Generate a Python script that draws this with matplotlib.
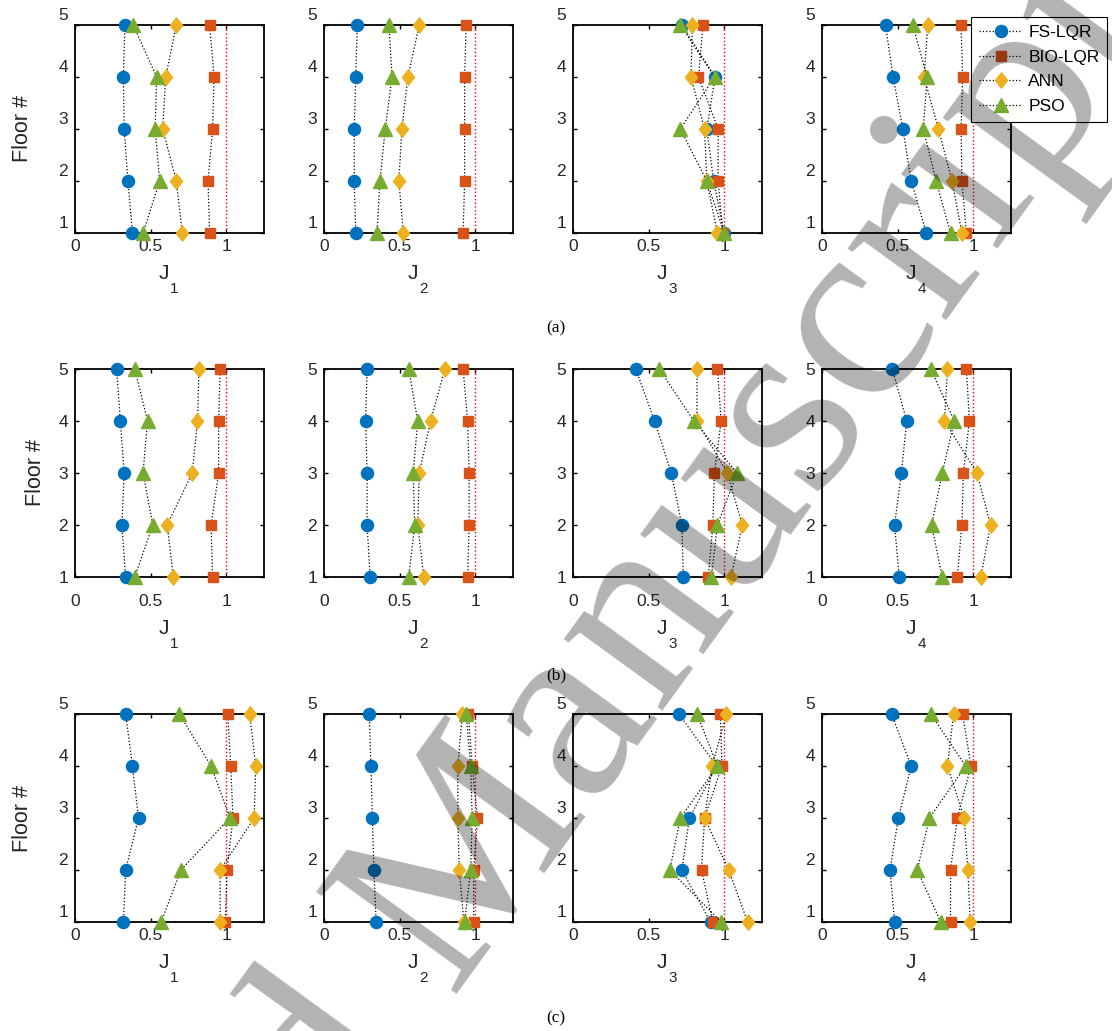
import matplotlib
matplotlib.use('Agg')
import matplotlib.pyplot as plt
from matplotlib.path import Path
from matplotlib.transforms import ScaledTranslation

plt.rcParams['font.family'] = ['Liberation Sans', 'DejaVu Sans']

floors = [1, 2, 3, 4, 5]
indices = ['1', '2', '3', '4']
methods = ['FS-LQR', 'BIO-LQR', 'ANN', 'PSO']

# each list: J1..J4, values for floors 1..5
fs_lqr_a = [[0.38, 0.35, 0.325, 0.32, 0.33],
            [0.21, 0.20, 0.20, 0.21, 0.22],
            [1.00, 0.93, 0.885, 0.94, 0.72],
            [0.69, 0.59, 0.535, 0.47, 0.42]]
bio_lqr_a = [[0.89, 0.88, 0.91, 0.92, 0.89],
             [0.92, 0.93, 0.93, 0.93, 0.94],
             [0.99, 0.96, 0.96, 0.83, 0.86],
             [0.955, 0.925, 0.92, 0.93, 0.92]]
ann_a = [[0.71, 0.67, 0.58, 0.60, 0.67],
         [0.525, 0.495, 0.515, 0.555, 0.63],
         [0.955, 0.885, 0.87, 0.78, 0.79],
         [0.925, 0.86, 0.77, 0.675, 0.70]]
pso_a = [[0.45, 0.56, 0.53, 0.54, 0.385],
         [0.35, 0.37, 0.405, 0.45, 0.43],
         [1.00, 0.885, 0.71, 0.936, 0.71],
         [0.85, 0.755, 0.67, 0.695, 0.60]]

fs_lqr_b = [[0.335, 0.31, 0.325, 0.30, 0.275],
            [0.305, 0.285, 0.285, 0.275, 0.285],
            [0.73, 0.72, 0.65, 0.54, 0.415],
            [0.51, 0.48, 0.525, 0.56, 0.465]]
bio_lqr_b = [[0.91, 0.90, 0.95, 0.95, 0.96],
             [0.95, 0.96, 0.96, 0.95, 0.92],
             [0.895, 0.925, 0.935, 0.98, 0.955],
             [0.895, 0.925, 0.935, 0.975, 0.955]]
ann_b = [[0.65, 0.61, 0.775, 0.81, 0.82],
         [0.66, 0.62, 0.63, 0.705, 0.80],
         [1.045, 1.12, 1.02, 0.82, 0.82],
         [1.05, 1.115, 1.025, 0.81, 0.83]]
pso_b = [[0.395, 0.515, 0.45, 0.48, 0.395],
         [0.56, 0.60, 0.59, 0.62, 0.56],
         [0.915, 0.955, 1.085, 0.80, 0.57],
         [0.795, 0.725, 0.795, 0.875, 0.72]]

fs_lqr_c = [[0.32, 0.335, 0.42, 0.38, 0.335],
            [0.345, 0.33, 0.32, 0.31, 0.30],
            [0.91, 0.72, 0.77, 0.95, 0.70],
            [0.48, 0.45, 0.505, 0.59, 0.46]]
bio_lqr_c = [[0.995, 1.005, 1.045, 1.03, 1.01],
             [0.99, 0.99, 1.015, 0.98, 0.955],
             [0.925, 0.85, 0.87, 0.985, 0.975],
             [0.85, 0.85, 0.895, 0.985, 0.93]]
ann_c = [[0.96, 0.96, 1.185, 1.195, 1.155],
         [0.925, 0.895, 0.885, 0.885, 0.915],
         [1.155, 1.03, 0.87, 0.92, 1.015],
         [0.98, 0.965, 0.94, 0.83, 0.87]]
pso_c = [[0.57, 0.70, 1.025, 0.90, 0.69],
         [0.93, 0.97, 0.98, 0.97, 0.94],
         [0.98, 0.64, 0.71, 0.955, 0.82],
         [0.785, 0.63, 0.71, 0.95, 0.72]]

rows = [(fs_lqr_a, bio_lqr_a, ann_a, pso_a),
        (fs_lqr_b, bio_lqr_b, ann_b, pso_b),
        (fs_lqr_c, bio_lqr_c, ann_c, pso_c)]
panel_names = ['(a)', '(b)', '(c)']

# narrow diamond like the MATLAB one
diamond = Path([(0, 1), (0.8, 0), (0, -1), (-0.8, 0), (0, 1)],
               [Path.MOVETO, Path.LINETO, Path.LINETO, Path.LINETO, Path.CLOSEPOLY])

colors = ['#0072BD', '#D95319', '#EDB120', '#77AC30']
markers = ['o', 's', diamond, '^']
msizes = [8.7, 7.8, 11, 9.5]

W, H = 1112, 1031
fig = plt.figure(figsize=(W / 100, H / 100), dpi=100)

lefts = [75, 324, 573, 822]
tops = [25, 369, 714]
aw, ah = 189, 208
shifted = [True, False, True]   # rows whose tick labels sit higher
ylab_x = [22, 35, 22]
label_y = [328, 675, 1018]

handles = None
for r, series in enumerate(rows):
    up = ScaledTranslation(0, (11 if shifted[r] else 0) / 100, fig.dpi_scale_trans)
    for c in range(4):
        ax = fig.add_axes([lefts[c] / W, 1 - (tops[r] + ah) / H, aw / W, ah / H])
        ax.axvline(1, color='red', ls=':', lw=1)
        hs = []
        for k in range(4):
            h, = ax.plot(series[k][c], floors, ls=':', color='k', lw=0.9,
                         marker=markers[k], ms=msizes[k], mfc=colors[k], mec=colors[k],
                         clip_on=False, label=methods[k], zorder=3 + k)
            hs.append(h)
        handles = hs
        ax.set_xlim(0, 1.25)
        ax.set_ylim(1, 5)
        ax.set_xticks([0, 0.5, 1])
        ax.set_xticklabels(['0', '0.5', '1'])
        ax.set_yticks(floors)
        ax.tick_params(direction='in', top=True, right=True, length=3, width=1,
                       labelsize=12.5, labelcolor='#262626')
        ax.tick_params(axis='x', pad=12)
        ax.tick_params(axis='y', pad=5)
        for sp in ax.spines.values():
            sp.set_linewidth(1.3)
        for lab in ax.get_xticklabels() + ax.get_yticklabels():
            lab.set_transform(lab.get_transform() + up)

        dy = 0 if shifted[r] else 11
        ax.annotate('J', xy=(0.5, 0), xycoords='axes fraction',
                    xytext=(-4.3, -(41 + dy) / 1.389), textcoords='offset points',
                    ha='center', va='center', fontsize=15, color='#262626')
        ax.annotate(indices[c], xy=(0.5, 0), xycoords='axes fraction',
                    xytext=(3.6, -(56 + dy) / 1.389), textcoords='offset points',
                    ha='center', va='center', fontsize=11, color='#262626')
        if c == 0:
            ax.set_ylabel('Floor #', fontsize=15.5, color='#262626')
            ax.yaxis.set_label_coords((ylab_x[r] + 11 - lefts[0]) / aw, 0.5)

    fig.text(556 / W, 1 - label_y[r] / H, panel_names[r], ha='center', va='center',
             family='Liberation Serif', fontsize=12.5)

leg = fig.legend(handles, methods, loc='upper left', bbox_to_anchor=(971 / W, 1 - 17 / H),
                 fancybox=False, edgecolor='k', framealpha=1, fontsize=12.5,
                 handlelength=2.5, borderpad=0.45, labelspacing=0.55, handletextpad=0.35,
                 borderaxespad=0)
leg.get_frame().set_linewidth(0.8)

fig.text(494 / W, 1 - 943 / H, 'Accepted Manuscript', rotation=54, rotation_mode='anchor',
         ha='center', va='baseline', fontsize=190, family='Liberation Serif',
         color='k', alpha=0.3, zorder=10)

fig.savefig('out.png', dpi=100)
